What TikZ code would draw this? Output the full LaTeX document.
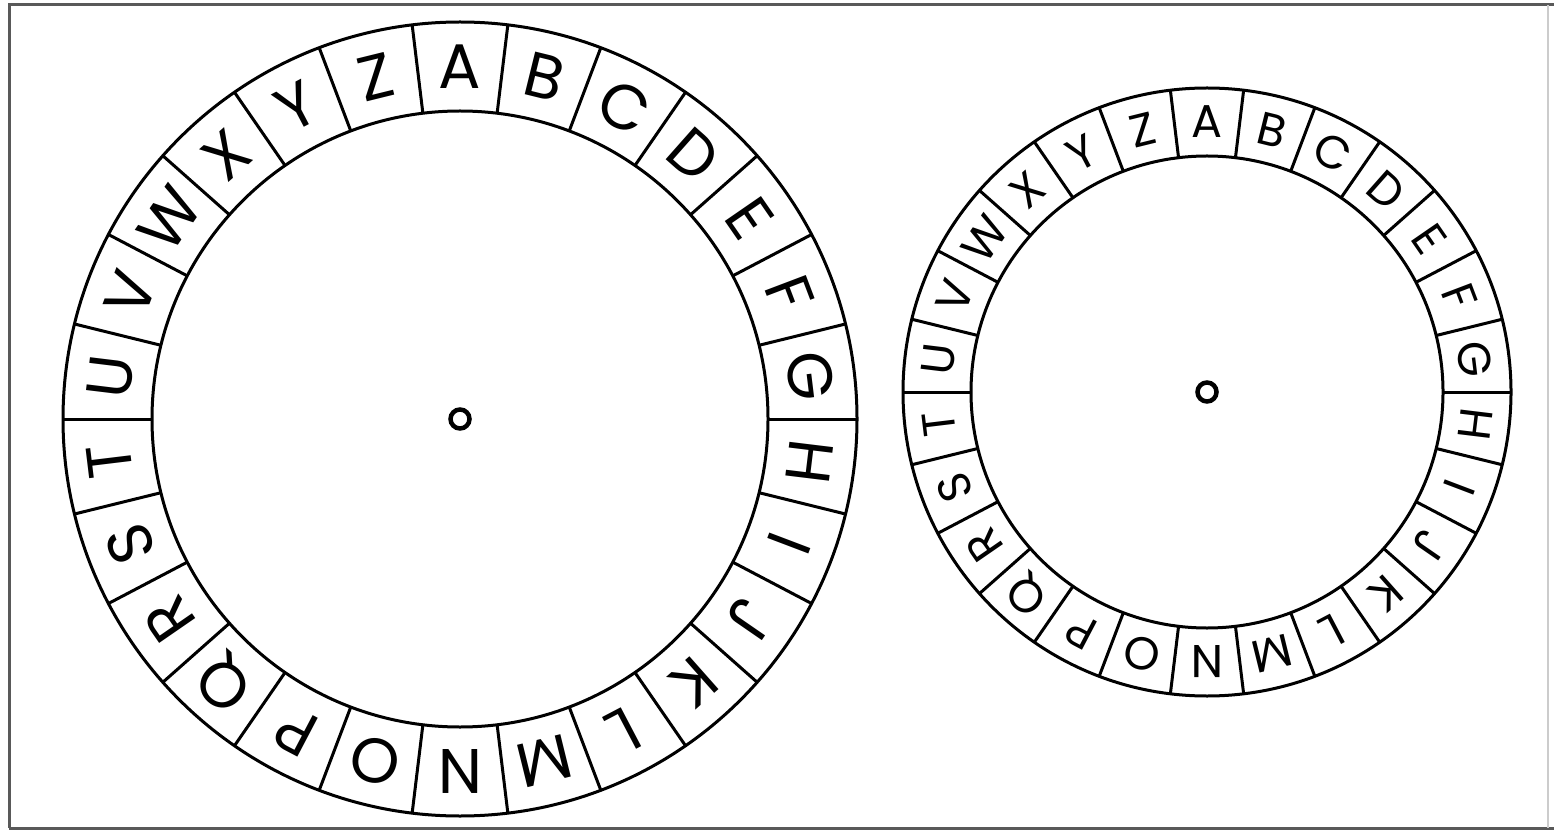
\documentclass[tikz,border=0pt]{standalone}
\usepackage{fontspec}
\setmainfont{Poppins}
\newcommand\cipherwheel[6]{%
  \begin{scope}[shift={(#1,#2)}]
    \draw[wheelline] (0,0) circle (#3);
    \draw[wheelline] (0,0) circle (#4);
    \draw[hubline] (0,0) circle (9.5);
    \foreach \L [count=\i from 0] in {A,B,C,D,E,F,G,H,I,J,K,L,M,N,O,P,Q,R,S,T,U,V,W,X,Y,Z} {
      \pgfmathsetmacro\ang{90-\i*360/26}
      \draw[wheelline] (\ang+180/26:#4) -- (\ang+180/26:#3);
      \node[ltr, rotate=\ang-90, font=\fontsize{#5}{#5}\selectfont] (#6\L) at (\ang:{(#3+#4)/2}) {\L};
    }
  \end{scope}}
\begin{document}
\begin{tikzpicture}[x=1pt,y=1pt,
  wheelline/.style={line width=3pt},
  hubline/.style={line width=4.5pt},
  ltr/.style={inner sep=0pt, anchor=center},
  frameline/.style={line width=3pt, color=black!65}]
\useasboundingbox (0,0) rectangle (1554,831);
\fill[white] (0,0) rectangle (1554,831);
\draw[frameline] (9,3) -- (9,826) -- (1554,826);
\draw[frameline] (9,3) -- (1554,3);
\draw[line width=1.5pt, color=black!20] (1548,3) -- (1548,826);
\cipherwheel{460}{412}{397}{308}{63}{a}
\cipherwheel{1207}{439}{304}{236}{46}{b}
\end{tikzpicture}
\end{document}
